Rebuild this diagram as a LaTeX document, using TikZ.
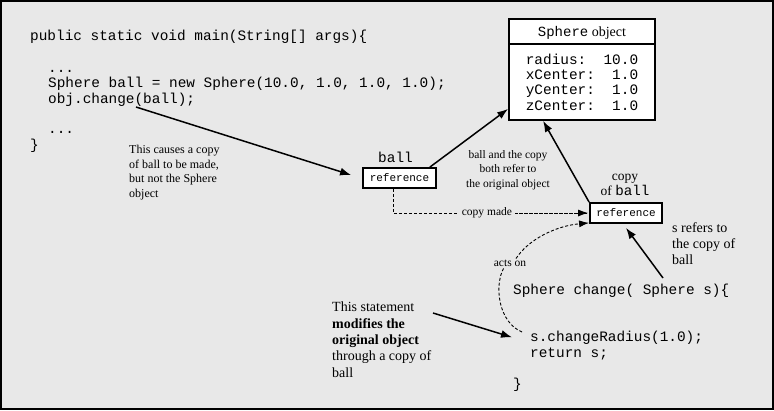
\documentclass[tikz,border=0pt]{standalone}
\usepackage{fontspec}
\setmainfont{Liberation Serif}
\setmonofont{Liberation Mono}
\usetikzlibrary{arrows.meta}
\definecolor{bg}{RGB}{232,232,232}
\begin{document}
\begin{tikzpicture}[x=1pt, y=-1pt,
		code/.style={font=\ttfamily\fontsize{14.4}{15.3}\selectfont, inner sep=0pt, anchor=base west},
		note/.style={inner sep=0pt, align=left, anchor=north west},
		small/.style={font=\fontsize{11.5}{14.5}\selectfont, inner sep=1pt},
		refbox/.style={draw, line width=1.8pt, fill=white, inner sep=0pt, minimum width=73pt, minimum height=20pt, font=\ttfamily\fontsize{11}{12}\selectfont},
		objbox/.style={draw, line width=1.8pt, fill=white, inner sep=0pt, minimum width=146pt},
		arr/.style={-{Latex[length=11pt,width=8pt]}, line width=1.5pt},
		dasharr/.style={-{Latex[length=10pt,width=7pt]}, line width=0.9pt, dash pattern=on 3pt off 2pt}]
		\useasboundingbox (0,0) rectangle (774,410);
		\draw[line width=2pt, fill=bg] (1,1) rectangle (773,409);
		% main method
		\node[code] (mainline) at (30,40) {public static void main(String[] args)\{};
		\node[code] (dotsa) at (48,72) {...};
		\node[code] (newball) at (48,87) {Sphere ball = new Sphere(10.0, 1.0, 1.0, 1.0);};
		\node[code] (callline) at (48,103) {obj.change(ball);};
		\node[code] (dotsb) at (48,133) {...};
		\node[code] (closea) at (30,149) {\}};
		% change method
		\node[code] (chghead) at (513,294) {Sphere change( Sphere s)\{};
		\node[code] (chgcall) at (530,341) {s.changeRadius(1.0);};
		\node[code] (retline) at (530,357) {return s;};
		\node[code] (closeb) at (513,388) {\}};
		% object and references
		\node[objbox, minimum height=25pt, font=\fontsize{14}{16}\selectfont, text height=11pt, text depth=0.5pt] (objhead) at (582,31.5) {\texttt{Sphere} object};
		\node[objbox, minimum height=76pt, align=left, font=\ttfamily\fontsize{14.4}{15.3}\selectfont] (objbody) at (582,82)
			{radius:\ \ 10.0\\xCenter:\ \ 1.0\\yCenter:\ \ 1.0\\zCenter:\ \ 1.0};
		\node[refbox] (ballref) at (399.5,178) {reference};
		\node[code, anchor=base] (balllbl) at (395.5,162) {ball};
		\node[refbox, minimum width=72pt] (copyref) at (626,213) {reference};
		\node[anchor=base, inner sep=0pt, font=\fontsize{13.5}{15}\selectfont] (copylbl) at (625,180) {copy};
		\node[anchor=base, inner sep=0pt, font=\fontsize{13.5}{15}\selectfont] (oflbl) at (625,195) {of \texttt{\fontsize{14.2}{15}\selectfont ball}};
		% notes
		\node[note, font=\fontsize{12}{14.5}\selectfont] (causenote) at (129,145) {This causes a copy\\of ball to be made,\\but not the Sphere\\object};
		\node[note, align=center, anchor=north, font=\fontsize{11.5}{14.5}\selectfont] (sharenote) at (508,150) {ball and the copy\\both refer to\\the original object};
		\node[note, font=\fontsize{14}{16.3}\selectfont] (modnote) at (332,302) {This statement\\\textbf{modifies the}\\\textbf{original object}\\through a copy of\\ball};
		\node[note, font=\fontsize{14}{16}\selectfont] (srefnote) at (672,222) {s refers to\\the copy of\\ball};
		\node[small] (acts) at (510,263) {acts on};
		% arrows
		\coordinate (callpt) at (136,107);
		\coordinate (sptr) at (663,278);
		\coordinate (modpt) at (433,313);
		\coordinate (actpt) at (522,332);
		\draw[arr] (callpt) -- ([xshift=-11pt, yshift=3pt]ballref.west);
		\draw[arr] ([xshift=-7pt]ballref.north east) -- ([yshift=12pt]objbody.south west);
		\draw[arr] (copyref.north west) -- ([xshift=35pt]objbody.south west);
		\draw[arr] (sptr) -- ([yshift=-4pt]copyref.south);
		\draw[arr] (modpt) -- ([xshift=-18pt]chgcall.west);
		\draw[dasharr, -] ([xshift=-6pt]ballref.south) |- node[pos=0.74, small, fill=bg, inner xsep=3pt] (copymade) {copy made} ([xshift=-1pt]copyref.west);
		\draw[dasharr] (copymade.east) -- ([xshift=-1pt]copyref.west);
		\draw[dasharr, -] (actpt) .. controls (498,322) and (494,285) .. ([xshift=-6pt]acts.south);
		\draw[dasharr] ([xshift=6pt]acts.north) .. controls (528,240) and (555,226) .. ([yshift=1pt]copyref.south west);
	\end{tikzpicture}
\end{document}
